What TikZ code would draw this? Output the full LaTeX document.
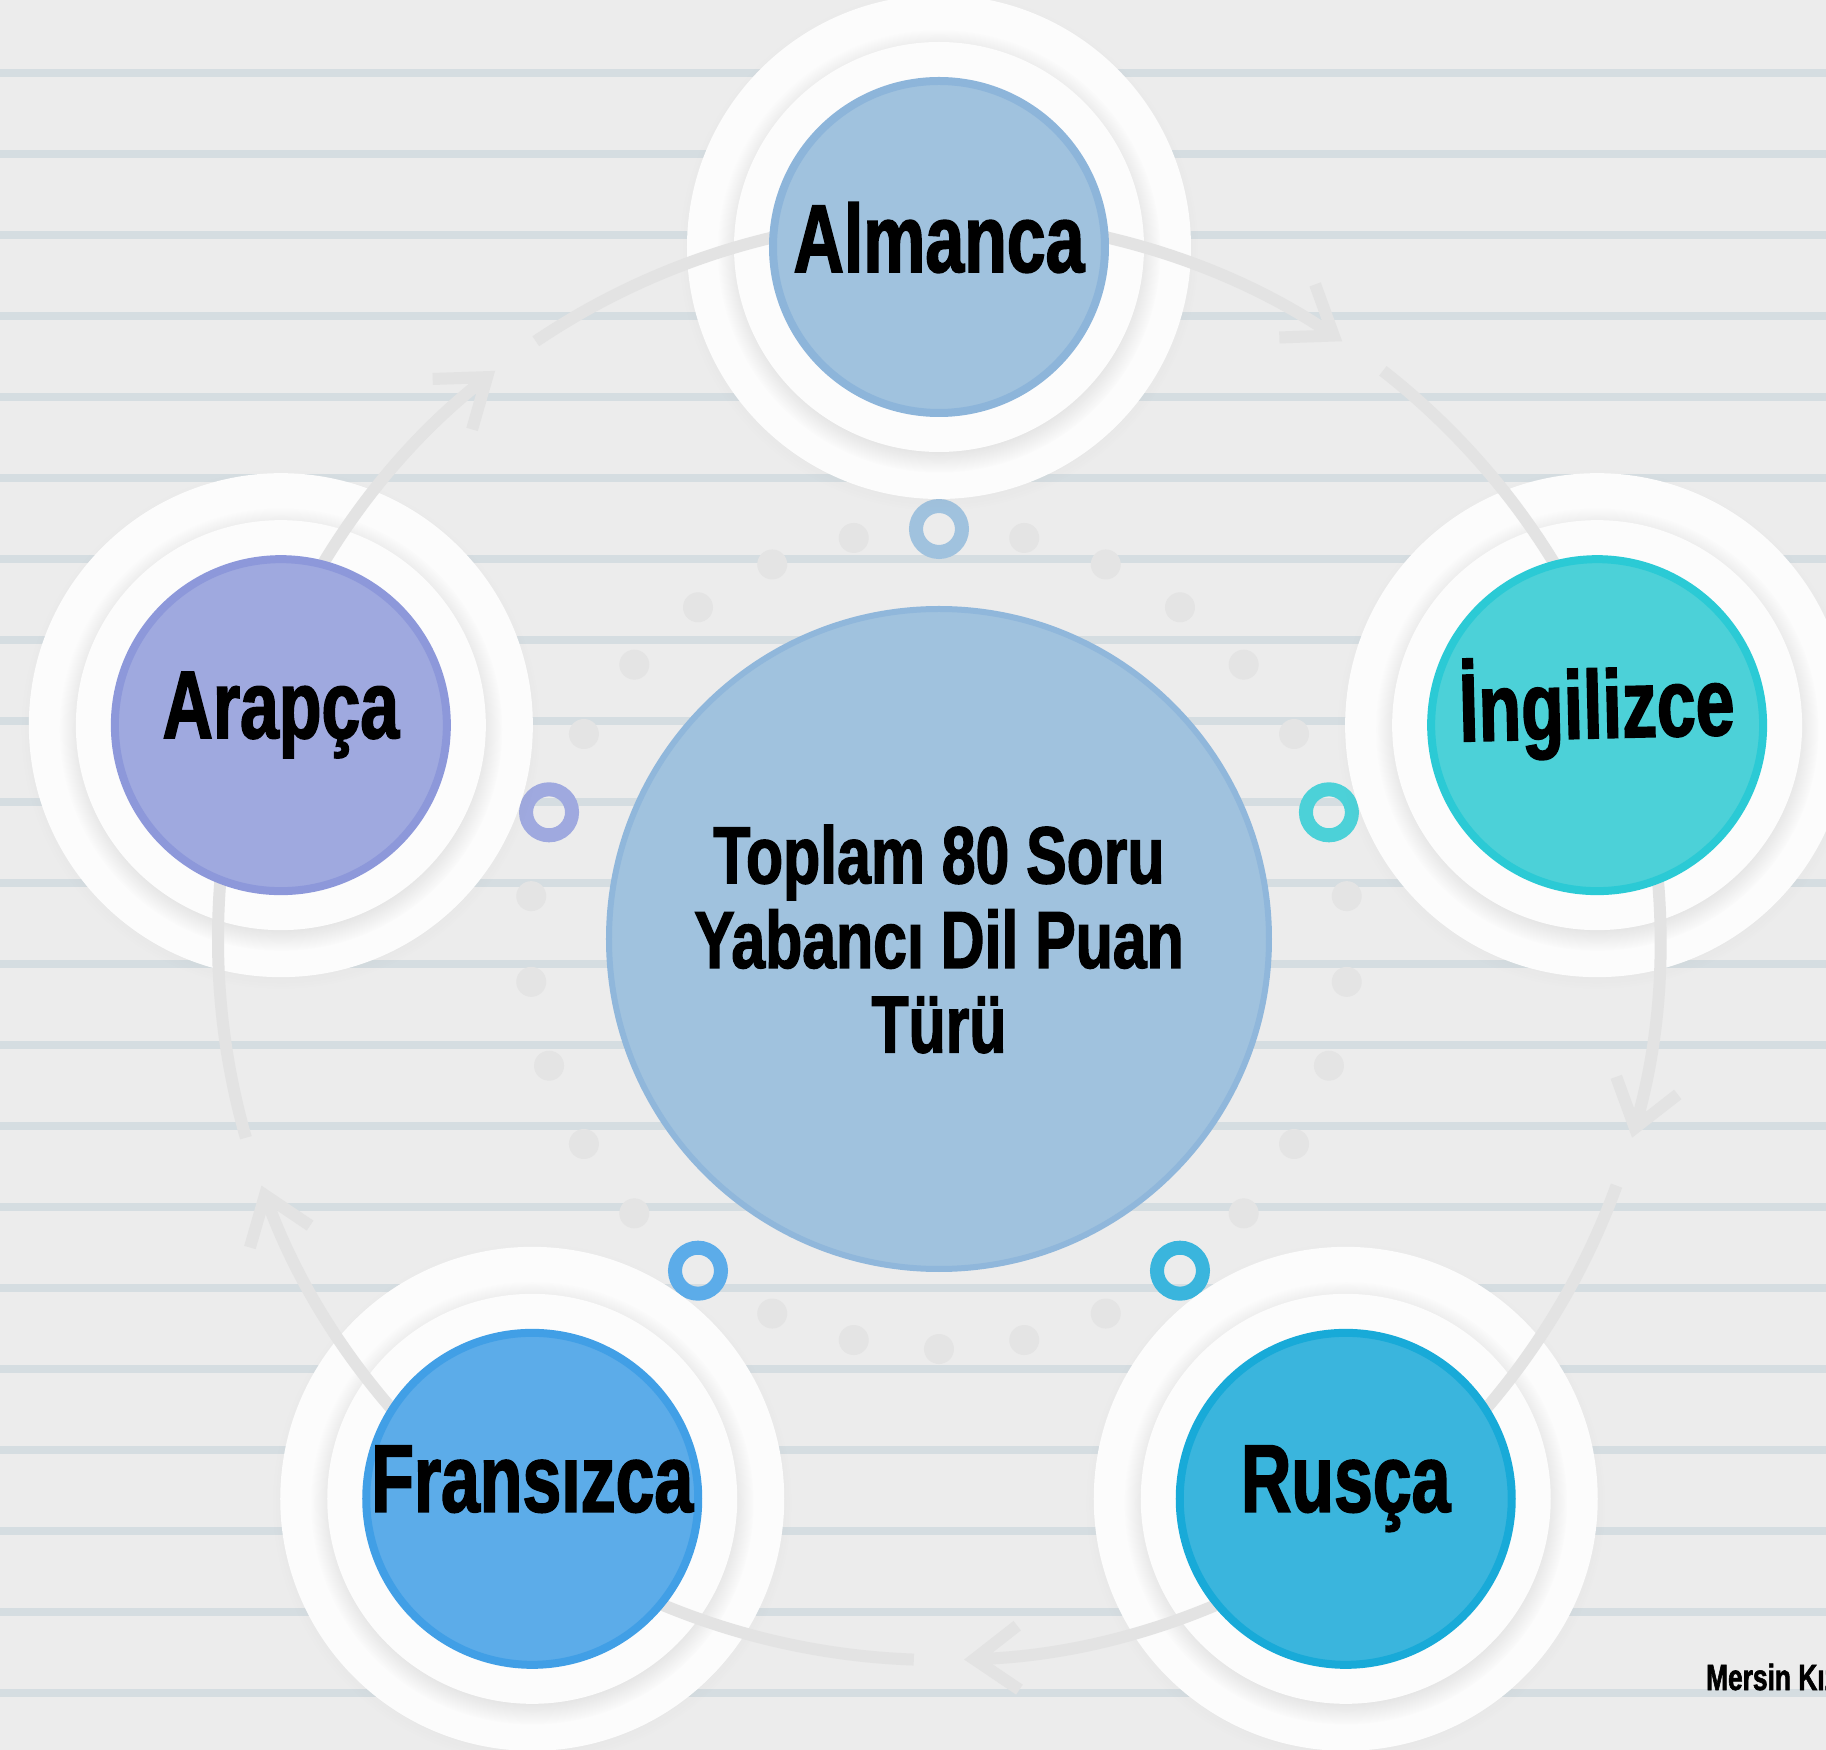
\documentclass[tikz,border=0pt]{standalone}
\usepackage{fontspec}
\setmainfont{Liberation Sans}
\newfontfamily\narrowfont[FakeStretch=0.724, FakeBold=1.6]{Liberation Sans}
\newfontfamily\hubfont[FakeStretch=0.75, FakeBold=1.6]{Liberation Sans}
\usetikzlibrary{arrows.meta,shadows}

\definecolor{paper}{HTML}{ECECEC}
\definecolor{stripe}{HTML}{D5DDE1}
\definecolor{dotgray}{HTML}{E4E4E4}
\definecolor{flowgray}{HTML}{E3E3E3}
\definecolor{ringwhite}{HTML}{FCFCFC}
\definecolor{almF}{HTML}{A0C2DE}\definecolor{almL}{HTML}{8DB5DA}
\definecolor{ingF}{HTML}{4CD1D8}\definecolor{ingL}{HTML}{2BCAD5}
\definecolor{rusF}{HTML}{3AB5DD}\definecolor{rusL}{HTML}{18AAD8}
\definecolor{fraF}{HTML}{5CACE9}\definecolor{fraL}{HTML}{419FE6}
\definecolor{araF}{HTML}{9FA9DF}\definecolor{araL}{HTML}{8D98DA}
\definecolor{hubF}{HTML}{A0C2DE}\definecolor{hubL}{HTML}{90B7DB}

\begin{document}
\begin{tikzpicture}[
  x=0.5pt, y=0.5pt,
  every node/.style={font=\narrowfont\bfseries},
  outring/.style={circle, fill=ringwhite, inner sep=0pt, minimum size=252pt,
    circular drop shadow={shadow scale=1.03, shadow xshift=0pt, shadow yshift=-2pt, opacity=0.1}},
  inring/.style={circle, fill=ringwhite, inner sep=0pt, minimum size=205pt,
    circular drop shadow={shadow scale=1.08, shadow xshift=0pt, shadow yshift=-2pt, opacity=0.28}},
  lang/.style={circle, fill=#1F, draw=#1L, line width=4pt, inner sep=0pt,
    minimum size=166pt, text height=25pt, text depth=12pt,
    font=\narrowfont\bfseries\fontsize{48.2pt}{50pt}\selectfont},
  hub/.style={circle, fill=hubF, draw=hubL, line width=3pt, inner sep=0pt,
    minimum size=330pt, align=center,
    font=\hubfont\bfseries\fontsize{40.5pt}{42.3pt}\selectfont},
  smallring/.style={circle, draw=#1, line width=7pt, inner sep=0pt, minimum size=23pt},
  flow/.style={draw=flowgray, line width=6pt},
  flowtip/.style={-{Straight Barb[length=22pt, width=32pt]}}
]
  %--- background and ruled lines
  \fill[paper] (-939,-811) rectangle (887,939);
  \useasboundingbox (-939,-811) rectangle (887,939);
  \foreach \k in {0,...,20}
    \draw[stripe, line width=4pt] (-939,866-81*\k) -- (887,866-81*\k);

  %--- dotted inner circle
  \foreach \j in {0,...,4}
    \foreach \k in {0,2,3,4,5}
      \fill[dotgray] ({72*\j+6+12*\k}:410) circle[radius=15];

  %--- small rings
  \node[smallring=almF] (alm-s) at (90:410)   {};
  \node[smallring=ingF] (ing-s) at (18:410)   {};
  \node[smallring=rusF] (rus-s) at (-54:410)  {};
  \node[smallring=fraF] (fra-s) at (-126:410) {};
  \node[smallring=araF] (ara-s) at (162:410)  {};

  %--- center
  \node[hub] (hub) at (0,0) {Toplam 80 Soru\\Yabancı Dil Puan\\Türü};

  %============ RINGS ============%
  \foreach \n/\a in {alm/90, ing/18, rus/-54, fra/-126, ara/162}{
    \node[outring] (\n-r) at (\a:692) {};
    \node[inring]  (\n-i) at (\a:692) {};
    \coordinate (\n-o) at (\a:721);
    \coordinate (\n-g) at ({\a-38}:721);
  }

  %============ CYCLE ARROWS ============%
  \foreach \n/\a in {alm/90, ing/18, rus/-54, fra/-126, ara/162}{
    \draw[flow, flowtip] (\n-o) arc[start angle=\a, end angle=\a-34, radius=721];
    \draw[flow] (\n-g) arc[start angle=\a-38, end angle=\a-72, radius=721];
  }

  %============ LANGUAGES ============%
  \node[lang=alm, text depth=0pt] (alm) at (alm-r) {Almanca};
  \node[lang=ing, rotate=1.4]     (ing) at (ing-r) {İngilizce};
  \node[lang=rus]                 (rus) at (rus-r) {Rusça};
  \node[lang=fra]                 (fra) at (fra-r) {Fransızca};
  \node[lang=ara]                 (ara) at (ara-r) {Arapça};

  \node[anchor=base west, font=\narrowfont\bfseries\fontsize{18.2pt}{20pt}\selectfont]
    (credit) at (760,-751) {Mersin Kız};
\end{tikzpicture}
\end{document}
